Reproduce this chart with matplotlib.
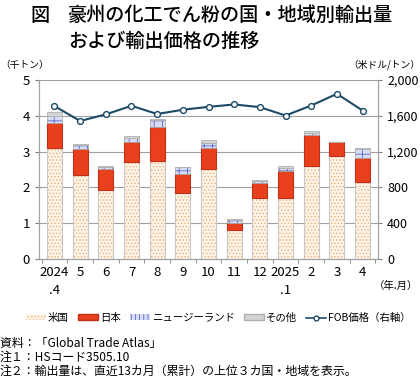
import numpy as np
import matplotlib.pyplot as plt
from matplotlib.patches import Patch
from matplotlib.lines import Line2D

plt.rcParams['font.family'] = ['Noto Sans CJK JP', 'DejaVu Sans']
plt.rcParams['hatch.linewidth'] = 0.6

months = ["2024\n.4", "5", "6", "7", "8", "9", "10", "11", "12", "2025\n.1", "2", "3", "4"]
usa = [3.10, 2.34, 1.93, 2.70, 2.74, 1.84, 2.51, 0.81, 1.70, 1.69, 2.61, 2.89, 2.15]
japan = [0.69, 0.73, 0.58, 0.57, 0.95, 0.53, 0.59, 0.20, 0.42, 0.78, 0.85, 0.37, 0.66]
nz = [0.22, 0.13, 0.07, 0.12, 0.19, 0.19, 0.13, 0.08, 0.06, 0.08, 0.06, 0.00, 0.26]
other = [0.09, 0.02, 0.01, 0.04, 0.04, 0.01, 0.10, 0.03, 0.03, 0.06, 0.07, 0.01, 0.03]
fob = [1710, 1543, 1617, 1713, 1621, 1669, 1701, 1728, 1698, 1604, 1716, 1847, 1660]

fig = plt.figure(figsize=(4.2, 3.78), dpi=100)
ax = fig.add_axes([0.093, 0.315, 0.807, 0.473])
ax2 = ax.twinx()

x = np.arange(len(months))
w = 0.58
edge = '#b0b0b0'
b1 = np.array(usa)
b2 = b1 + np.array(japan)
b3 = b2 + np.array(nz)

ax.bar(x, usa, w, color='#fdf3e6', edgecolor='#e8b47c', hatch='.....', linewidth=0)
ax.bar(x, usa, w, fill=False, edgecolor='#c8c8c8', linewidth=0.8)
ax.bar(x, japan, w, bottom=b1, color='#e8401c', edgecolor='#c03018', linewidth=0.8)
ax.bar(x, nz, w, bottom=b2, color='#d8ddf5', edgecolor='#5a68c8', hatch='++', linewidth=0)
ax.bar(x, nz, w, bottom=b2, fill=False, edgecolor=edge, linewidth=0.6)
ax.bar(x, other, w, bottom=b3, color='#d4d4d4', edgecolor=edge, linewidth=0.6)

ax2.plot(x, fob, color='#1d4a66', linewidth=1.5, marker='o', markersize=4.2,
         markerfacecolor='white', markeredgecolor='#1d4a66', markeredgewidth=1.0)

ax.set_ylim(0, 5)
ax2.set_ylim(0, 2000)
ax.set_xlim(-0.6, len(months) - 0.4)
ax.set_yticks(range(6))
ax2.set_yticks(range(0, 2001, 400))
ax2.set_yticklabels([f"{v:,}" for v in range(0, 2001, 400)])
ax.grid(axis='y', color='#a0a0a0', linewidth=0.8)
ax.set_axisbelow(True)

ax.set_xticks(x)
ax.set_xticklabels(months, fontsize=9.5, linespacing=1.5, va='top')
ax.set_xticks(np.arange(-0.5, len(months), 1), minor=True)
ax.tick_params(axis='x', which='major', length=0, pad=5)
ax.tick_params(axis='x', which='minor', length=3, color='#808080')
ax.tick_params(axis='y', labelsize=9.5, length=3, color='#808080')
ax2.tick_params(axis='y', labelsize=9, length=3, color='#808080')

for a in (ax, ax2):
    a.spines['top'].set_visible(False)
    for s in ('left', 'right', 'bottom'):
        a.spines[s].set_color('#a0a0a0')

fig.text(30/420, 1 - 15/378, "図", fontsize=13.8, va='center', weight='medium')
fig.text(68/420, 1 - 15/378, "豪州の化工でん粉の国・地域別輸出量", fontsize=13.8,
         va='center', weight='medium')
fig.text(68/420, 1 - 41/378, "および輸出価格の推移", fontsize=13.8, va='center', weight='medium')
fig.text(0.0, 1 - 65/378, "（千トン）", fontsize=7, va='center')
fig.text(1.0, 1 - 65/378, "（米ドル/トン）", fontsize=7, va='center', ha='right')
fig.text(0.995, 1 - 286/378, "（年.月）", fontsize=7.5, va='center', ha='right')

handles = [
    Patch(facecolor='#fdf3e6', edgecolor='#e8b47c', hatch='.....', linewidth=0),
    Patch(facecolor='#e8401c', edgecolor='#c03018'),
    Patch(facecolor='#d8ddf5', edgecolor='#5a68c8', hatch='||||', linewidth=0),
    Patch(facecolor='#d4d4d4', edgecolor=edge),
    Line2D([], [], color='#1d4a66', marker='o', markersize=3.5,
           markerfacecolor='white', linewidth=1.2),
]
labels = ["米国", "日本", "ニュージーランド", "その他", "FOB価格（右軸）"]
fig.legend(handles, labels, loc='center', bbox_to_anchor=(0.52, 1 - 318/378), ncol=5,
           frameon=False, fontsize=7.5, handlelength=1.9, handleheight=0.5,
           handletextpad=0.2, columnspacing=0.9, borderaxespad=0, borderpad=0)

notes = ["資料：「Global Trade Atlas」",
         "注１：HSコード3505.10",
         "注２：輸出量は、直近13カ月（累計）の上位３カ国・地域を表示。"]
for i, t in enumerate(notes):
    fig.text(0.0, 1 - (343 + i * 14)/378, t, fontsize=8.6, va='center')

fig.savefig("out.png", dpi=100)
